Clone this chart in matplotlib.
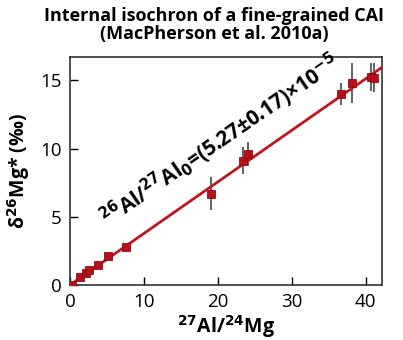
import matplotlib.pyplot as plt

plt.rcParams['font.family'] = ['Open Sans', 'DejaVu Sans']

# data
al_mg = [0.3, 1.3, 2.1, 2.5, 3.8, 5.1, 7.6, 19.0, 23.4, 24.0, 36.6, 38.1, 40.7, 41.1]
d26mg = [0.0, 0.55, 0.86, 1.1, 1.47, 2.1, 2.8, 6.7, 9.1, 9.6, 14.0, 14.8, 15.25, 15.2]
err = [0.1, 0.1, 0.1, 0.1, 0.1, 0.1, 0.1, 1.2, 1.0, 0.9, 0.8, 1.5, 1.05, 1.05]
slope = 0.378  # permil per unit 27Al/24Mg
line_x = [0, 42.2]

fig = plt.figure(figsize=(4.03, 3.4), dpi=100)
ax = fig.add_axes([0.174, 0.162, 0.774, 0.670])

ax.errorbar(al_mg, d26mg, yerr=err, fmt='none', ecolor='#555555', elinewidth=1.3, zorder=2)
ax.plot(line_x, [slope * x for x in line_x], color='#c0161e', lw=2, zorder=3)
ax.plot(al_mg, d26mg, 's', ms=6, color='#b8101a', mec='#8a0a10', mew=0.6, zorder=4)

ax.set_xlim(0, 42.2)
ax.set_ylim(0, 16.7)
ax.set_xticks([0, 10, 20, 30, 40])
ax.set_yticks([0, 5, 10, 15])
ax.tick_params(direction='in', length=6, width=1, labelsize=13.5, pad=6)
for s in ax.spines.values():
    s.set_linewidth(1.2)
    s.set_color('#333333')

ax.set_xlabel(r'$\mathbf{^{27}}$Al/$\mathbf{^{24}}$Mg', fontsize=14, fontweight='bold', labelpad=1)
ax.set_ylabel(r'δ$\mathbf{^{26}}$Mg* (‰)', fontsize=14, fontweight='bold', labelpad=6)

ax.text(20.3, 10.6, r'$\mathbf{^{26}}$Al/$\mathbf{^{27}}$Al$\mathbf{_0}$=(5.27±0.17)×10$\mathbf{^{-5}}$',
        rotation=34.5, rotation_mode='anchor', ha='center', va='center',
        fontsize=15, fontweight='bold')

fig.text(0.531, 0.978, 'Internal isochron of a fine-grained CAI\n(MacPherson et al. 2010a)',
         ha='center', va='top', fontsize=13, fontweight='bold', linespacing=1.0)

fig.savefig('out.png', dpi=100)
